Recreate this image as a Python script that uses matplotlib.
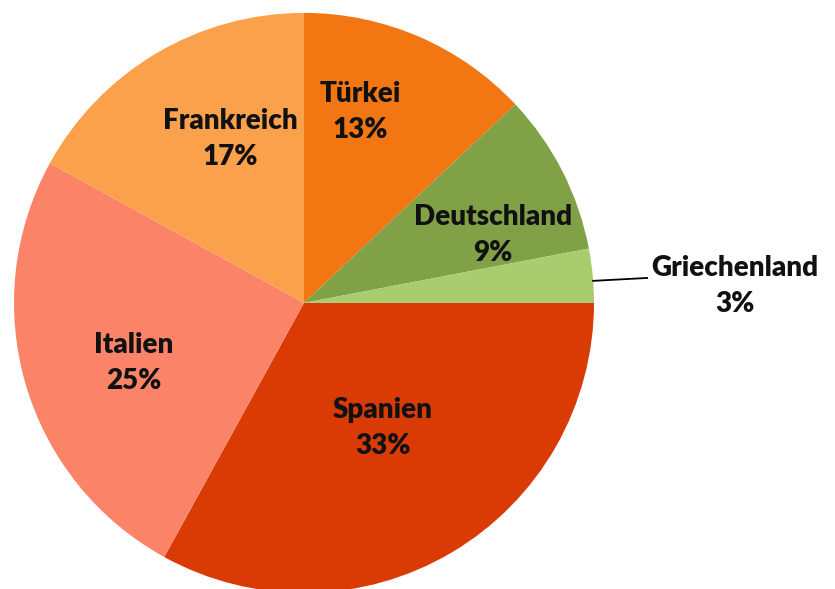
import matplotlib
matplotlib.use("Agg")
import matplotlib.pyplot as plt

# Anteile nach Land (im Uhrzeigersinn ab 3 Uhr)
laender = ["Spanien", "Italien", "Frankreich", "Türkei", "Deutschland", "Griechenland"]
anteile = [33, 25, 17, 13, 9, 3]
farben = ["#DA3A03", "#FB8368", "#FBA04B", "#F27713", "#80A145", "#A9CC6E"]

# Beschriftungspositionen (Textmitte, in Radien)
label_pos = [(0.272, -0.442), (-0.586, -0.217), (-0.255, 0.555),
             (0.193, 0.648), (0.652, 0.224), (1.486, 0.048)]

plt.rcParams["font.family"] = ["Lato", "DejaVu Sans"]

fig = plt.figure(figsize=(8.35, 5.89), dpi=100)
ax = fig.add_axes([0, 0, 1, 1])

ax.pie(anteile, colors=farben, startangle=0, counterclock=False,
       radius=1, center=(0, -0.01), wedgeprops=dict(linewidth=0))

for name, wert, (x, y) in zip(laender, anteile, label_pos):
    ax.text(x, y, f"{name}\n{wert}%", ha="center", va="center",
            fontsize=20, fontweight="heavy", color="#111111", linespacing=1.45)

# Führungslinie für Griechenland
ax.plot([0.997, 1.183], [0.066, 0.076], color="black", lw=1.3)

ax.set_xlim(-304 / 290, (835 - 304) / 290)
ax.set_ylim(-(589 - 300) / 290, 300 / 290)
ax.set_aspect("equal")
ax.axis("off")

fig.savefig("out.png", dpi=100)
